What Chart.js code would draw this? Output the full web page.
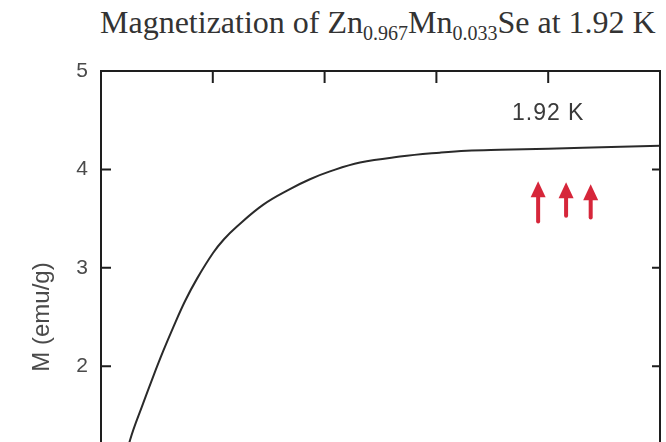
<!DOCTYPE html>
<html><head><meta charset="utf-8">
<script src="https://cdn.jsdelivr.net/npm/chart.js@4"></script>
<style>
html,body{margin:0;padding:0;width:666px;height:442px;overflow:hidden;background:#fff;}
#title{position:absolute;left:100px;top:4px;white-space:nowrap;font-family:"Liberation Serif",serif;font-size:32px;line-height:1.15;color:#333;}
#title .sub{font-size:20px;vertical-align:-7px;line-height:0;}
#wrap{position:absolute;left:0;top:0;width:666px;height:600px;}
</style></head>
<body>
<div id="title">Magnetization of Zn<span class="sub">0.967</span>Mn<span class="sub">0.033</span>Se at 1.92 K</div>
<div id="wrap"><canvas id="c" width="666" height="600"></canvas></div>
<script>
// Field (x, 0..5) and magnetization M (emu/g)
const fieldValues = [0, 0.13, 0.26, 0.376, 0.465, 0.555, 0.644, 0.751, 0.859, 1.002, 1.1, 1.216, 1.449, 1.69, 1.869, 2.048, 2.317, 2.674, 3.03, 3.27, 3.57, 4.0, 4.31, 4.65, 5.0];
const magValues   = [0, 0.67, 1.25, 1.62, 1.89, 2.15, 2.39, 2.66, 2.89, 3.15, 3.29, 3.42, 3.64, 3.80, 3.90, 3.98, 4.07, 4.13, 4.17, 4.19, 4.20, 4.21, 4.22, 4.23, 4.24];
const xTicks = [0, 1, 2, 3, 4, 5];
const yTicks = [0, 1, 2, 3, 4, 5];
const curveLabel = '1.92 K';
const curveLabelPos = [4.0, 4.57];
// spin arrows: x, top M, bottom M
const arrowX      = [3.91, 4.16, 4.38];
const arrowTop    = [3.88, 3.87, 3.85];
const arrowBottom = [3.47, 3.53, 3.51];

const points = fieldValues.map((x, i) => ({x, y: magValues[i]}));

const framePlugin = {
  id: 'frame',
  afterDraw(chart) {
    const {ctx, chartArea: a, scales: {x, y}} = chart;
    ctx.save();
    ctx.strokeStyle = '#1e1e1e';
    ctx.lineWidth = 2;
    ctx.strokeRect(a.left, a.top, a.right - a.left, a.bottom - a.top);
    ctx.beginPath();
    xTicks.slice(1, -1).forEach(v => {
      const px = x.getPixelForValue(v);
      ctx.moveTo(px, a.top); ctx.lineTo(px, a.top + 12);
      ctx.moveTo(px, a.bottom); ctx.lineTo(px, a.bottom - 12);
    });
    yTicks.slice(1, -1).forEach(v => {
      const py = y.getPixelForValue(v);
      ctx.moveTo(a.left, py); ctx.lineTo(a.left + 10, py);
      ctx.moveTo(a.right, py); ctx.lineTo(a.right - 8, py);
    });
    ctx.stroke();
    // curve label
    ctx.fillStyle = '#3a3a3a';
    ctx.font = '23px "Liberation Sans", sans-serif';
    try { ctx.letterSpacing = '1px'; } catch (e) {}
    ctx.textAlign = 'center';
    ctx.textBaseline = 'middle';
    ctx.fillText(curveLabel, x.getPixelForValue(curveLabelPos[0]), y.getPixelForValue(curveLabelPos[1]));
    try { ctx.letterSpacing = '0px'; } catch (e) {}
    // arrows
    ctx.strokeStyle = '#d6263a';
    ctx.fillStyle = '#d6263a';
    arrowX.forEach((ax, i) => {
      const px = x.getPixelForValue(ax);
      const pt = y.getPixelForValue(arrowTop[i]);
      const pb = y.getPixelForValue(arrowBottom[i]);
      ctx.lineWidth = 4;
      ctx.lineCap = 'round';
      ctx.beginPath();
      ctx.moveTo(px, pb); ctx.lineTo(px, pt + 10);
      ctx.stroke();
      ctx.beginPath();
      ctx.moveTo(px, pt);
      ctx.lineTo(px - 7.5, pt + 16);
      ctx.lineTo(px + 7.5, pt + 16);
      ctx.closePath();
      ctx.fill();
    });
    ctx.restore();
  }
};

new Chart(document.getElementById('c'), {
  type: 'line',
  data: {
    datasets: [{
      data: points,
      borderColor: '#2a2a2a',
      borderWidth: 2,
      pointRadius: 0,
      fill: false,
      tension: 0.4
    }]
  },
  options: {
    responsive: false,
    animation: false,
    layout: {padding: {left: 0, right: 6, top: 71, bottom: 37}},
    plugins: {legend: {display: false}, tooltip: {enabled: false}},
    scales: {
      x: {type: 'linear', min: 0, max: 5, display: false},
      y: {
        type: 'linear', min: 0, max: 5,
        afterBuildTicks(s) { s.ticks = yTicks.map(v => ({value: v})); },
        afterFit(s) { s.width = 101; },
        ticks: {padding: 13, color: '#4a4a4a', font: {family: '"Liberation Sans", sans-serif', size: 21}},
        grid: {display: false, drawTicks: false},
        border: {display: false},
        title: {display: true, text: 'M (emu/g)', color: '#4a4a4a', font: {family: '"Liberation Sans", sans-serif', size: 24}, padding: {top: 28}}
      }
    }
  },
  plugins: [framePlugin]
});
</script>
</body></html>
